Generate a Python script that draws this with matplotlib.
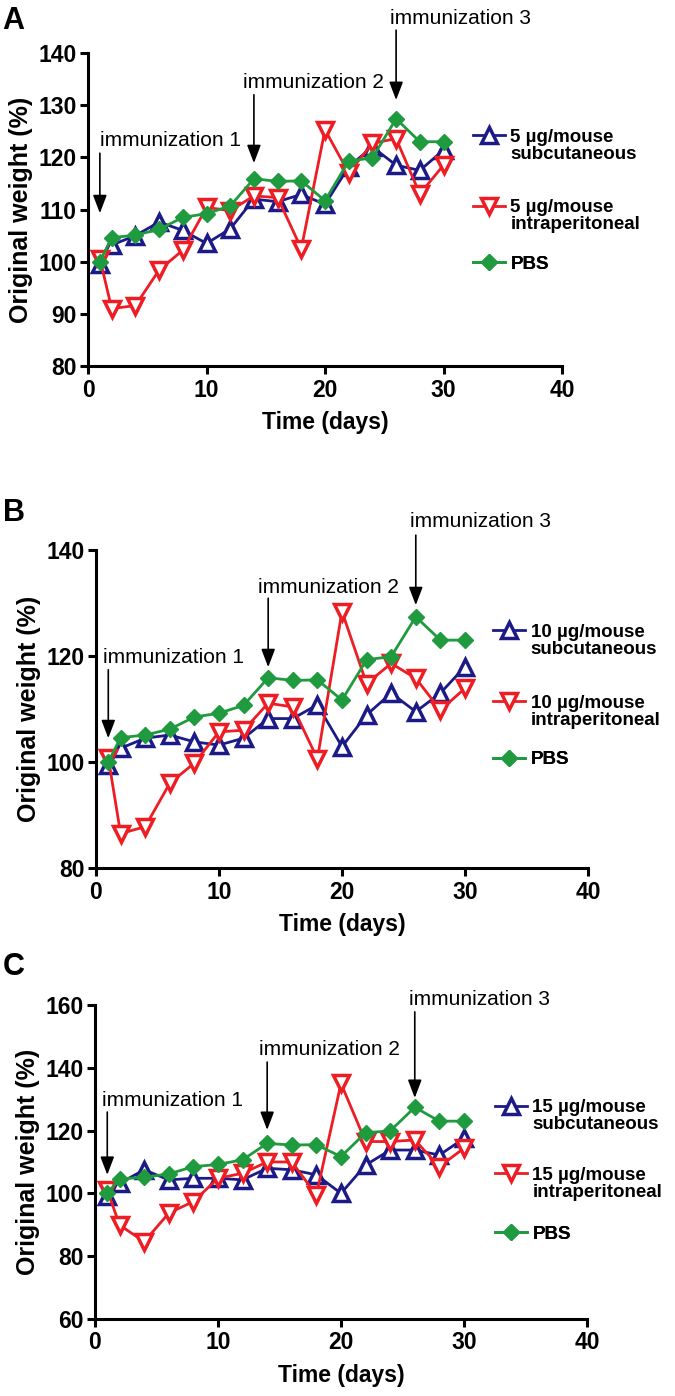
import matplotlib.pyplot as plt
from matplotlib.lines import Line2D

plt.rcParams['font.family'] = ['Liberation Sans', 'DejaVu Sans']
plt.rcParams['font.weight'] = 'bold'

# sampling days
days = [1, 2, 4, 6, 8, 10, 12, 14, 16, 18, 20, 22, 24, 26, 28, 30]

# PBS control (same curve in all three panels)
pbs = [100, 104.6, 105.1, 106.2, 108.5, 109.2, 110.7, 115.9, 115.4, 115.5,
       111.7, 119.3, 119.9, 127.4, 123.0, 123.0]

# 5 µg/mouse
sc5 = [99.6, 103.2, 105.0, 107.6, 106.0, 103.5, 106.3, 112.0, 111.5, 112.9,
       111.0, 118.2, 122.0, 118.5, 117.5, 121.4]
ip5 = [100.6, 91.0, 91.6, 98.4, 102.2, 110.4, 109.8, 112.6, 112.3, 102.5,
       125.3, 117.0, 122.7, 123.6, 113.0, 118.5]

# 10 µg/mouse
sc10 = [99.4, 102.6, 104.5, 105.1, 103.8, 103.2, 104.5, 108.2, 108.2, 110.8,
        102.9, 108.9, 113.0, 109.5, 113.0, 118.0]
ip10 = [100.8, 86.5, 87.8, 96.0, 99.8, 105.7, 106.0, 111.1, 110.4, 100.6,
        128.4, 114.8, 118.6, 115.8, 109.8, 113.9]

# 15 µg/mouse
sc15 = [99.0, 103.2, 107.5, 104.3, 104.8, 104.8, 104.3, 108.0, 107.5, 105.9,
        100.0, 109.0, 113.8, 113.8, 112.2, 117.5]
ip15 = [101.1, 89.9, 84.6, 93.7, 97.4, 104.8, 106.4, 110.0, 110.0, 99.5,
        135.0, 116.5, 116.5, 117.0, 108.5, 114.4]

doses = ['5', '10', '15']
panel_letters = ['A', 'B', 'C']
sc_data = [sc5, sc10, sc15]
ip_data = [ip5, ip10, ip15]

immun_days = [1, 14, 26]
immun_labels = ['immunization 1', 'immunization 2', 'immunization 3']

# per panel layout / annotation settings
ylims = [(80, 140), (80, 140), (60, 160)]
yticks = [range(80, 141, 10), range(80, 141, 20), range(60, 161, 20)]
axes_rects = [[0.1304, 0.7378, 0.7022, 0.2242],
              [0.1422, 0.3782, 0.7289, 0.2278],
              [0.1407, 0.0552, 0.7289, 0.2249]]
# arrow (start, tip) and text position (x, y) in data units
arrow_starts = [[120.8, 132.0, 144.4], [117.4, 130.9, 142.8], [125.9, 141.8, 157.8]]
arrow_tips = [[109.3, 118.9, 131.0], [104.5, 117.9, 129.6], [105.9, 120.2, 130.4]]
text_x = [[1.0, 13.1, 25.5], [0.6, 13.2, 25.5], [0.6, 13.3, 25.5]]
text_y = [[123.3, 134.4, 146.7], [119.8, 133.0, 145.3], [129.7, 145.7, 161.6]]
leg_x = [0.812, 0.807, 0.813]
leg_y = [[0.703, 0.479, 0.325], [0.714, 0.491, 0.340], [0.646, 0.430, 0.270]]
letter_y = [0.996, 0.643, 0.318]

blue = '#1c1a87'
red = '#ee1d24'
green = '#1f9a3f'

blank = Line2D([], [], linestyle='none')

fig = plt.figure(figsize=(6.75, 13.96), dpi=100)

for i in range(3):
    ax = fig.add_axes(axes_rects[i])
    l1, = ax.plot(days, sc_data[i], color=blue, lw=2, marker='^', ms=12,
                  mfc='white', mec=blue, mew=2.5, zorder=3)
    l2, = ax.plot(days, ip_data[i], color=red, lw=2, marker='v', ms=12,
                  mfc='white', mec=red, mew=2.5, zorder=4)
    l3, = ax.plot(days, pbs, color=green, lw=2, marker='D', ms=8,
                  mfc=green, mec=green, zorder=5)

    ax.set_xlim(0, 40)
    ax.set_ylim(*ylims[i])
    ax.set_xticks([0, 10, 20, 30, 40])
    ax.set_yticks(list(yticks[i]))
    for s in ['top', 'right']:
        ax.spines[s].set_visible(False)
    for s in ['left', 'bottom']:
        ax.spines[s].set_linewidth(2.2)
    ax.tick_params(direction='out', length=6, width=2.2, labelsize=16.5, pad=2)
    ax.tick_params(axis='x', pad=3)
    ax.set_xlabel('Time (days)', fontsize=16.5, fontweight='bold', labelpad=7)
    ax.set_ylabel('Original weight (%)', fontsize=18, fontweight='bold', labelpad=4)

    for j in range(3):
        ax.annotate('', xy=(immun_days[j], arrow_tips[i][j]),
                    xytext=(immun_days[j], arrow_starts[i][j]),
                    arrowprops=dict(arrowstyle='-|>,head_length=1.1,head_width=0.42',
                                    color='black', lw=1.2, shrinkA=0, shrinkB=0),
                    annotation_clip=False)
        ax.text(text_x[i][j], text_y[i][j], immun_labels[j], fontsize=15,
                fontweight='normal', ha='left', va='center', clip_on=False)

    entries = [([l1, blank], [doses[i] + ' µg/mouse', 'subcutaneous']),
               ([l2, blank], [doses[i] + ' µg/mouse', 'intraperitoneal']),
               ([l3], ['PBS'])]
    for k, (hs, labs) in enumerate(entries):
        leg = ax.legend(hs, labs, loc='center left',
                        bbox_to_anchor=(leg_x[i], leg_y[i][k]),
                        frameon=False, borderpad=0, borderaxespad=0,
                        handlelength=1.7, handletextpad=0.3, labelspacing=0.0,
                        prop={'size': 13.5, 'weight': 'bold'})
        ax.add_artist(leg)

    fig.text(0.004, letter_y[i], panel_letters[i], fontsize=22,
             fontweight='bold', ha='left', va='top')

fig.savefig('out.png', dpi=100)
